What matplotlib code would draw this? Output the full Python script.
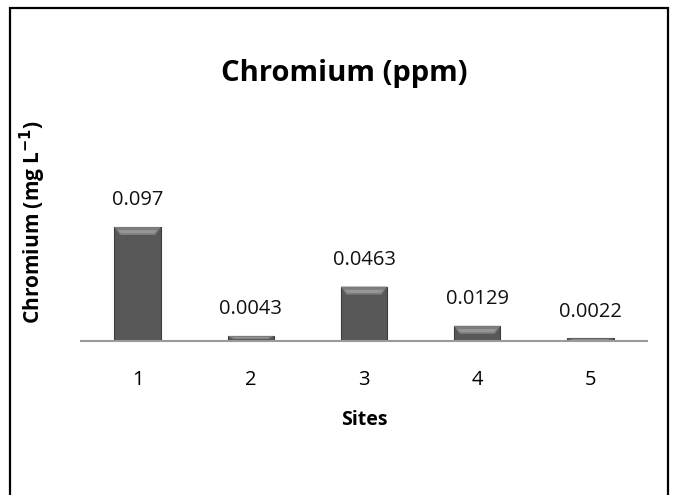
import matplotlib.pyplot as plt
from matplotlib.patches import Polygon, Rectangle

sites = ["1", "2", "3", "4", "5"]
chromium = [0.097, 0.0043, 0.0463, 0.0129, 0.0022]
labels = ["0.097", "0.0043", "0.0463", "0.0129", "0.0022"]

plt.rcParams['font.family'] = ['Open Sans', 'DejaVu Sans']

W, H = 679, 495
fig = plt.figure(figsize=(W / 100, H / 100), dpi=100)

# outer chart frame
fig.patches.append(Rectangle((10 / W, -0.02), 658 / W, 1.02 - 8 / H,
                             transform=fig.transFigure, fill=False,
                             edgecolor="black", linewidth=1.6))

ymax = 0.14
ax_left, ax_right, ax_bottom = 81, 647, 341
ax_h = 114 / 0.097 * ymax
ax = fig.add_axes([ax_left / W, (H - ax_bottom) / H,
                   (ax_right - ax_left) / W, ax_h / H])

x = list(range(1, len(sites) + 1))
width = 0.41
bars = ax.bar(x, chromium, width=width, color="#585858",
              edgecolor="#3c3c3c", linewidth=0.8, zorder=2)

ax.set_xlim(0.5, len(sites) + 0.5)
ax.set_ylim(0, ymax)

# bevelled top on each bar
px_y = ymax / ax_h
bevel_y = 8 * px_y
bevel_x = 0.05
for b, v in zip(bars, chromium):
    x0, x1 = b.get_x(), b.get_x() + b.get_width()
    dy = min(bevel_y, v * 0.6)
    ax.add_patch(Polygon([(x0, v), (x1, v), (x1 - bevel_x, v - dy),
                          (x0 + bevel_x, v - dy)], closed=True,
                         facecolor="#7c7c7c", edgecolor="none", zorder=3))
    ax.add_patch(Polygon([(x0 + bevel_x * 0.6, v - dy * 0.4),
                          (x1 - bevel_x * 0.6, v - dy * 0.4),
                          (x1 - bevel_x * 1.2, v - dy * 0.8),
                          (x0 + bevel_x * 1.2, v - dy * 0.8)], closed=True,
                         facecolor="#969696", edgecolor="none", zorder=3))

for xi, v, lab in zip(x, chromium, labels):
    ax.annotate(lab, (xi, v), xytext=(0, 12), textcoords="offset points",
                ha="center", va="bottom", fontsize=14.5, color="#111111")

for s in ["top", "right", "left"]:
    ax.spines[s].set_visible(False)
ax.spines["bottom"].set_color("#9a9a9a")
ax.spines["bottom"].set_linewidth(1.5)
ax.set_yticks([])
ax.set_xticks(x)
ax.set_xticklabels(sites, fontsize=14.5)
ax.tick_params(axis="x", length=0, pad=21)
ax.set_xlabel("Sites", fontsize=14, fontweight="bold", labelpad=14)

fig.text(344 / W, 1 - 73 / H, "Chromium (ppm)",
         ha="center", va="center", fontsize=21, fontweight="bold")
fig.text(33 / W, 1 - 222 / H, "Chromium (mg L$^{\\mathbf{-1}}$)",
         rotation=90, ha="center", va="center", fontsize=15,
         fontweight="bold")

fig.savefig("out.png", dpi=100)
